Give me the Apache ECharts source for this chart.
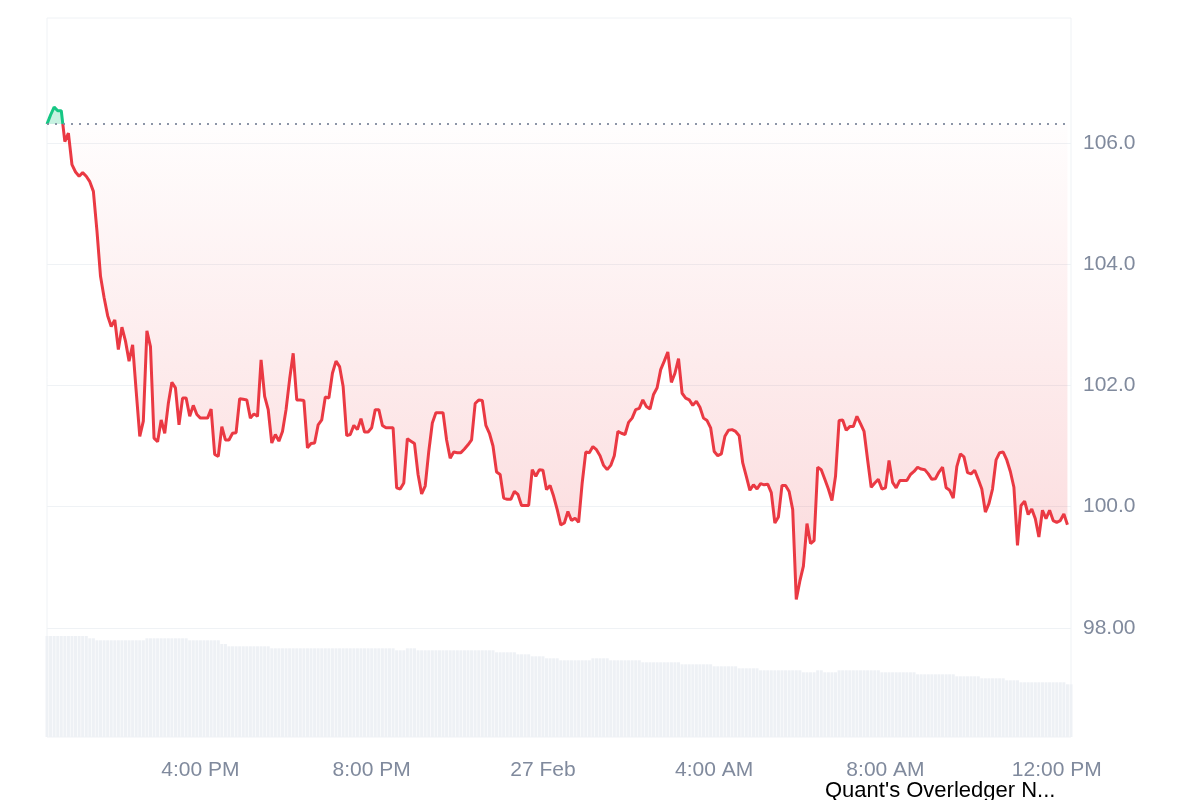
<!DOCTYPE html>
<html>
<head>
<meta charset="utf-8">
<script src="https://cdn.jsdelivr.net/npm/echarts@6/dist/echarts.min.js"></script>
<style>html,body{margin:0;padding:0;background:#fff}#chart{width:1200px;height:800px}</style>
</head>
<body>
<div id="chart"></div>
<script>
const titleText = "Quant's Overledger N...";
const startTime = new Date(2025, 1, 26, 12, 25).getTime();
const endTime = new Date(2025, 1, 27, 12, 20).getTime();
const stepMinutes = 5;

// price (USD), one value per 5 minutes
const prices = [
106.31,106.46,106.59,106.53,106.53,106.02,106.16,105.64,105.52,105.45,
105.51,105.45,105.36,105.20,104.55,103.80,103.45,103.15,102.97,103.08,
102.59,102.96,102.73,102.40,102.67,101.90,101.16,101.41,102.90,102.64,
101.13,101.07,101.43,101.21,101.70,102.05,101.96,101.35,101.79,101.79,
101.49,101.67,101.52,101.46,101.46,101.46,101.61,100.86,100.83,101.32,
101.10,101.10,101.21,101.22,101.78,101.77,101.76,101.46,101.53,101.49,
102.42,101.82,101.60,101.05,101.19,101.08,101.24,101.60,102.10,102.53,
101.76,101.76,101.75,100.97,101.04,101.05,101.35,101.43,101.81,101.79,
102.20,102.40,102.31,101.98,101.17,101.19,101.34,101.27,101.45,101.23,
101.23,101.30,101.60,101.60,101.34,101.30,101.30,101.30,100.31,100.29,
100.39,101.12,101.08,101.04,100.53,100.21,100.34,100.91,101.38,101.55,
101.55,101.55,101.10,100.80,100.90,100.89,100.89,100.95,101.02,101.10,
101.70,101.76,101.75,101.34,101.21,101.00,100.57,100.53,100.14,100.12,
100.12,100.25,100.20,100.02,100.02,100.02,100.61,100.50,100.61,100.60,
100.28,100.35,100.17,99.95,99.70,99.73,99.92,99.77,99.81,99.74,
100.39,100.90,100.89,100.99,100.94,100.84,100.68,100.61,100.68,100.84,
101.24,101.21,101.19,101.39,101.46,101.60,101.62,101.76,101.65,101.61,
101.85,101.96,102.26,102.40,102.55,102.05,102.20,102.44,101.87,101.79,
101.76,101.67,101.74,101.64,101.46,101.42,101.30,100.91,100.84,100.87,
101.16,101.26,101.27,101.24,101.17,100.72,100.50,100.27,100.36,100.29,
100.38,100.36,100.37,100.23,99.73,99.83,100.35,100.35,100.25,99.95,
98.47,98.77,99.02,99.72,99.39,99.44,100.65,100.61,100.45,100.29,
100.10,100.50,101.42,101.43,101.26,101.32,101.32,101.49,101.37,101.24,
100.77,100.32,100.39,100.45,100.29,100.31,100.76,100.40,100.31,100.43,
100.43,100.43,100.53,100.58,100.65,100.62,100.61,100.54,100.45,100.46,
100.57,100.65,100.31,100.27,100.14,100.66,100.87,100.82,100.56,100.54,
100.60,100.45,100.29,99.91,100.05,100.29,100.77,100.89,100.90,100.77,
100.58,100.32,99.36,100.02,100.09,99.87,99.96,99.80,99.50,99.94,
99.80,99.94,99.77,99.74,99.77,99.88,99.70
];

// 24h volume (millions), one bar per 5 minutes
const volumes = [
10.1,10.1,10.1,10.1,10.1,10.1,10.1,10.1,10.1,10.1,10.1,10.1,
9.87,9.87,
9.67,9.67,9.67,9.67,9.67,9.67,9.67,9.67,9.67,9.67,9.67,9.67,9.67,9.67,
9.87,9.87,9.87,9.87,9.87,9.87,9.87,9.87,9.87,9.87,9.87,9.87,
9.67,9.67,9.67,9.67,9.67,9.67,9.67,9.67,9.67,
9.30,9.30,
9.07,9.07,9.07,9.07,9.07,9.07,9.07,9.07,9.07,9.07,9.07,9.07,
8.87,8.87,8.87,8.87,8.87,8.87,8.87,8.87,8.87,8.87,8.87,8.87,8.87,8.87,8.87,8.87,8.87,8.87,
8.87,8.87,8.87,8.87,8.87,8.87,8.87,8.87,8.87,8.87,8.87,8.87,8.87,8.87,8.87,8.87,8.87,
8.67,8.67,8.67,
8.87,8.87,8.87,
8.67,8.67,8.67,8.67,8.67,8.67,8.67,8.67,8.67,8.67,8.67,8.67,8.67,8.67,8.67,8.67,8.67,8.67,8.67,8.67,8.67,8.67,
8.47,8.47,8.47,8.47,8.47,8.47,
8.27,8.27,8.27,8.27,
8.07,8.07,8.07,8.07,
7.87,7.87,7.87,7.87,
7.67,7.67,7.67,7.67,7.67,7.67,7.67,7.67,7.67,
7.87,7.87,7.87,7.87,7.87,
7.67,7.67,7.67,7.67,7.67,7.67,7.67,7.67,7.67,
7.47,7.47,7.47,7.47,7.47,7.47,7.47,7.47,7.47,7.47,7.47,
7.27,7.27,7.27,7.27,7.27,7.27,7.27,7.27,7.27,
7.07,7.07,7.07,7.07,7.07,7.07,7.07,
6.87,6.87,6.87,6.87,6.87,6.87,
6.67,6.67,6.67,6.67,6.67,6.67,6.67,6.67,6.67,6.67,6.67,6.67,
6.47,6.47,6.47,6.47,
6.67,6.67,
6.47,6.47,6.47,6.47,
6.67,6.67,6.67,6.67,6.67,6.67,6.67,6.67,6.67,6.67,6.67,6.67,
6.47,6.47,6.47,6.47,6.47,6.47,6.47,6.47,6.47,6.47,
6.27,6.27,6.27,6.27,6.27,6.27,6.27,6.27,6.27,6.27,6.27,
6.07,6.07,6.07,6.07,6.07,6.07,6.07,
5.87,5.87,5.87,5.87,5.87,5.87,5.87,
5.67,5.67,5.67,5.67,
5.47,5.47,5.47,5.47,5.47,5.47,5.47,5.47,5.47,5.47,5.47,5.47,5.47,
5.27,5.27
];

const xTickTimes = [
  new Date(2025, 1, 26, 16, 0).getTime(),
  new Date(2025, 1, 26, 20, 0).getTime(),
  new Date(2025, 1, 27, 0, 0).getTime(),
  new Date(2025, 1, 27, 4, 0).getTime(),
  new Date(2025, 1, 27, 8, 0).getTime(),
  new Date(2025, 1, 27, 12, 0).getTime()
];
const xTickLabels = ['4:00 PM', '8:00 PM', '27 Feb', '4:00 AM', '8:00 AM', '12:00 PM'];
const yTicks = [98, 100, 102, 104, 106];

const baseline = prices[0];
const stepMs = stepMinutes * 60 * 1000;
const priceData = prices.map((v, i) => [startTime + i * stepMs, v]);
const volumeData = volumes.map((v, i) => [startTime + i * stepMs, v]);
const pMin = Math.min(...prices);

const GREEN = '#16c784';
const RED = '#ea3943';
const LABEL = '#808a9d';
const FONT = 'Arial, "Liberation Sans", sans-serif';

const chart = echarts.init(document.getElementById('chart'), null, { renderer: 'canvas' });
chart.setOption({
  animation: false,
  backgroundColor: '#ffffff',
  title: {
    text: titleText,
    left: 825,
    top: 780,
    padding: 0,
    textStyle: { color: '#000', fontSize: 22, fontWeight: 'normal', fontFamily: FONT }
  },
  grid: {
    left: 47, right: 129, top: 18, bottom: 63,
    show: true, borderColor: '#eff2f5', borderWidth: 1, backgroundColor: 'transparent'
  },
  xAxis: {
    type: 'value',
    min: startTime,
    max: endTime,
    axisLine: { show: false },
    axisTick: { show: false, customValues: xTickTimes },
    splitLine: { show: false },
    axisLabel: {
      customValues: xTickTimes,
      color: LABEL, fontSize: 21, fontFamily: FONT, margin: 23,
      formatter: (v) => {
        const k = xTickTimes.indexOf(v);
        return k >= 0 ? xTickLabels[k] : '';
      }
    }
  },
  yAxis: [
    {
      type: 'value',
      position: 'right',
      min: 96.2,
      max: 108.06,
      axisLine: { show: false },
      axisTick: { show: false, customValues: yTicks },
      splitLine: { show: true, lineStyle: { color: '#eff2f5', width: 1 } },
      axisLabel: {
        customValues: yTicks,
        color: LABEL, fontSize: 21, fontFamily: FONT, margin: 12,
        formatter: (v) => Number(v).toPrecision(4)
      }
    },
    {
      type: 'value',
      min: 0,
      max: 71.9,
      show: false,
      splitLine: { show: false }
    }
  ],
  series: [
    {
      type: 'bar',
      yAxisIndex: 1,
      data: volumeData,
      barWidth: 3,
      itemStyle: { color: '#eef1f5' },
      silent: true,
      z: 1
    },
    {
      type: 'line',
      data: priceData,
      showSymbol: false,
      symbol: 'none',
      lineStyle: { width: 3, color: RED },
      areaStyle: { origin: baseline, color: 'rgba(234,57,67,0.1)' },
      markLine: {
        silent: true,
        symbol: ['none', 'none'],
        label: { show: false },
        lineStyle: { color: LABEL, type: [2, 6], width: 2, opacity: 0.9 },
        data: [{ yAxis: baseline }]
      },
      z: 3
    }
  ]
});

// colour split at the baseline: green above, red below (global gradients in pixel space)
const yBase = chart.convertToPixel({ yAxisIndex: 0 }, baseline);
const yLow = chart.convertToPixel({ yAxisIndex: 0 }, pMin);
const yTop = chart.convertToPixel({ yAxisIndex: 0 }, 108.06);
const split = (yBase - yTop) / (yLow - yTop);
const lineGrad = {
  type: 'linear', global: true, x: 0, y: yTop, x2: 0, y2: yLow,
  colorStops: [
    { offset: 0, color: GREEN },
    { offset: split, color: GREEN },
    { offset: split, color: RED },
    { offset: 1, color: RED }
  ]
};
const areaGrad = {
  type: 'linear', global: true, x: 0, y: yTop, x2: 0, y2: yLow,
  colorStops: [
    { offset: 0, color: 'rgba(22,199,132,0.35)' },
    { offset: split, color: 'rgba(22,199,132,0.35)' },
    { offset: split, color: 'rgba(234,57,67,0.01)' },
    { offset: 1, color: 'rgba(234,57,67,0.27)' }
  ]
};
chart.setOption({
  series: [{}, { lineStyle: { color: lineGrad }, areaStyle: { color: areaGrad } }]
});
</script>
</body>
</html>
